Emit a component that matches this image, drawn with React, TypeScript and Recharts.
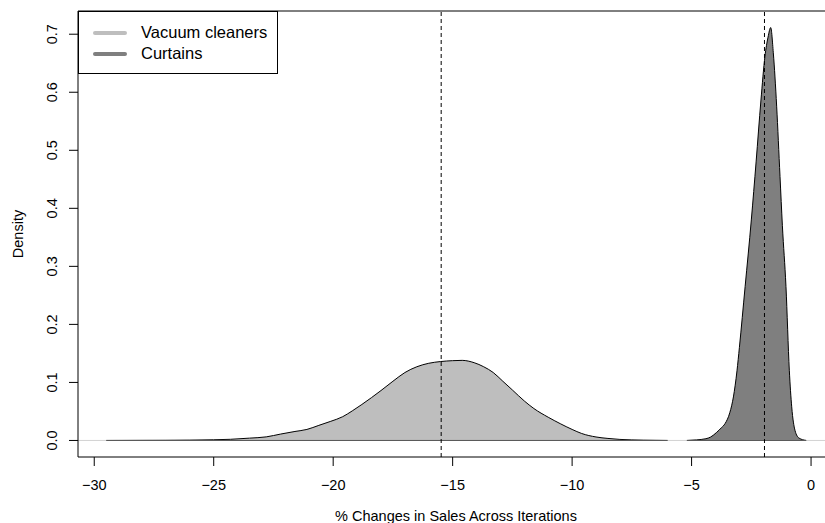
import {
  ComposedChart,
  Area,
  XAxis,
  YAxis,
  ReferenceLine,
  Legend,
  Label,
} from 'recharts';

// kernel density of % change in sales
const VAC_X = [
  -29.5, -28, -27, -26, -25, -24.3, -23.5, -22.8, -22.2, -21.6, -21.1, -20.6,
  -20.1, -19.6, -19.2, -18.8, -18.0, -17.5, -17.0, -16.5, -16.0, -15.5, -15.0,
  -14.6, -14.1, -13.7, -13.3, -12.9, -12.5, -12.0, -11.6, -11.0, -10.5, -10.0,
  -9.6, -9.0, -8.5, -8.0, -7.5, -7.0, -6.0,
];
const VAC_Y = [
  0.0, 0.0002, 0.0003, 0.0006, 0.0012, 0.002, 0.004, 0.0062, 0.011, 0.0155,
  0.019, 0.026, 0.033, 0.041, 0.051, 0.062, 0.086, 0.102, 0.117, 0.127, 0.133,
  0.136, 0.1375, 0.138, 0.134, 0.127, 0.117, 0.102, 0.087, 0.068, 0.055, 0.04,
  0.029, 0.019, 0.012, 0.006, 0.0035, 0.0018, 0.001, 0.0005, 0.0,
];

const CUR_X = [
  -5.2, -4.8, -4.4, -4.2, -3.95, -3.75, -3.6, -3.4, -3.25, -3.1, -3.0, -2.76,
  -2.5, -2.3, -2.1, -1.93, -1.8, -1.69, -1.58, -1.44, -1.3, -1.2, -1.05, -0.91,
  -0.81, -0.67, -0.5, -0.2,
];
const CUR_Y = [
  0.0, 0.001, 0.003, 0.006, 0.014, 0.022, 0.029, 0.048, 0.075, 0.12, 0.16,
  0.265, 0.38, 0.48, 0.585, 0.662, 0.695, 0.7115, 0.668, 0.576, 0.455, 0.37,
  0.265, 0.121, 0.058, 0.017, 0.004, 0.0,
];

const X_TICKS = [-30, -25, -20, -15, -10, -5, 0];
const Y_TICKS = [0, 0.1, 0.2, 0.3, 0.4, 0.5, 0.6, 0.7];
const X_DOMAIN = [-30.68, 0.96];
const Y_DOMAIN = [-0.0285, 0.74];

const VAC_MEAN = -15.48;
const CUR_MEAN = -1.95;

const SERIES = [
  { name: 'Vacuum cleaners', color: '#bebebe' },
  { name: 'Curtains', color: '#7f7f7f' },
];

const FONT = '"Liberation Sans", Arial, Helvetica, sans-serif';

const data = [
  ...VAC_X.map((x, i) => ({ x, vac: VAC_Y[i], cur: null as number | null })),
  ...CUR_X.map((x, i) => ({ x, vac: null as number | null, cur: CUR_Y[i] })),
];

function XTick(props: any) {
  const { x, y, payload } = props;
  const label = String(payload.value).replace('-', '\u2212');
  return (
    <text x={x} y={y + 22} textAnchor="middle" fontSize={14.5} fill="#000" fontFamily={FONT}>
      {label}
    </text>
  );
}

function YTick(props: any) {
  const { y, payload } = props;
  return (
    <text
      transform={`translate(57, ${y}) rotate(-90)`}
      textAnchor="middle"
      fontSize={14.5}
      fill="#000"
      fontFamily={FONT}
    >
      {Number(payload.value).toFixed(1)}
    </text>
  );
}

function LegendBox() {
  return (
    <div
      style={{
        position: 'relative',
        width: 198,
        height: 61,
        border: '1px solid #000',
        background: '#fff',
        fontFamily: FONT,
        fontSize: 16.5,
        color: '#000',
      }}
    >
      {SERIES.map((s, i) => (
        <div key={s.name}>
          <div
            style={{
              position: 'absolute',
              left: 14,
              top: 19 + i * 21,
              width: 34,
              height: 4,
              borderRadius: 2,
              background: s.color,
            }}
          />
          <div
            style={{
              position: 'absolute',
              left: 62,
              top: 10 + i * 21,
              lineHeight: '20px',
              whiteSpace: 'nowrap',
            }}
          >
            {s.name}
          </div>
        </div>
      ))}
    </div>
  );
}

export default function App() {
  return (
    <div
      style={{
        position: 'absolute',
        left: 0,
        top: 0,
        width: 825,
        height: 523,
        overflow: 'hidden',
        background: '#fff',
      }}
    >
      <ComposedChart
        width={850}
        height={523}
        data={data}
        margin={{ top: 11, right: 16, bottom: 0, left: 0 }}
      >
        <XAxis
          dataKey="x"
          type="number"
          domain={X_DOMAIN}
          ticks={X_TICKS}
          allowDataOverflow
          height={66}
          tickSize={9}
          tick={<XTick />}
          axisLine={{ stroke: '#000' }}
          tickLine={{ stroke: '#000' }}
        >
          <Label
            content={() => (
              <text x={456} y={521} textAnchor="middle" fontSize={14.5} fontFamily={FONT} fill="#000">
                % Changes in Sales Across Iterations
              </text>
            )}
          />
        </XAxis>
        <YAxis
          type="number"
          domain={Y_DOMAIN}
          ticks={Y_TICKS}
          allowDataOverflow
          width={78}
          tickSize={9}
          tick={<YTick />}
          axisLine={{ stroke: '#000' }}
          tickLine={{ stroke: '#000' }}
        >
          <Label
            content={() => (
              <text
                transform="translate(23, 234) rotate(-90)"
                textAnchor="middle"
                fontSize={14.5}
                fontFamily={FONT}
                fill="#000"
              >
                Density
              </text>
            )}
          />
        </YAxis>
        <ReferenceLine y={0} stroke="#d3d3d3" strokeWidth={1} />
        <Area
          dataKey="vac"
          type="monotone"
          stroke="#000"
          strokeWidth={1}
          fill={SERIES[0].color}
          fillOpacity={1}
          baseValue={0}
          isAnimationActive={false}
          dot={false}
          activeDot={false}
        />
        <Area
          dataKey="cur"
          type="monotone"
          stroke="#000"
          strokeWidth={1}
          fill={SERIES[1].color}
          fillOpacity={1}
          baseValue={0}
          isAnimationActive={false}
          dot={false}
          activeDot={false}
        />
        <ReferenceLine
          segment={[{ x: VAC_X[0], y: 0 }, { x: VAC_X[VAC_X.length - 1], y: 0 }]}
          stroke="#555"
        />
        <ReferenceLine
          segment={[{ x: CUR_X[0], y: 0 }, { x: CUR_X[CUR_X.length - 1], y: 0 }]}
          stroke="#555"
        />
        <ReferenceLine x={VAC_MEAN} stroke="#000" strokeDasharray="4 3" />
        <ReferenceLine x={CUR_MEAN} stroke="#000" strokeDasharray="4 3" />
        <ReferenceLine y={Y_DOMAIN[1]} stroke="#000" />
        <Legend
          layout="horizontal"
          verticalAlign="middle"
          align="center"
          content={() => <LegendBox />}
          wrapperStyle={{ top: 11, left: 78, width: 200, height: 63 }}
        />
      </ComposedChart>
    </div>
  );
}
